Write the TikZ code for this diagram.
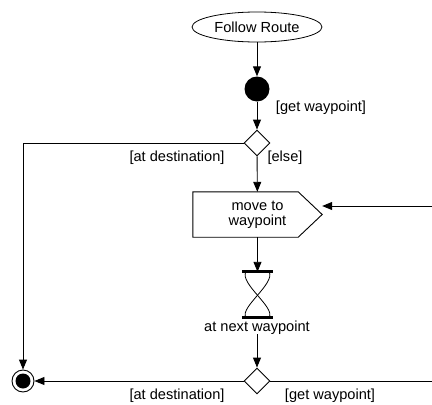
\documentclass[tikz,border=0pt]{standalone}
\usepackage{fontspec}
\setmainfont{Liberation Sans}
\usetikzlibrary{arrows.meta,shapes.geometric}

\begin{document}
\begin{tikzpicture}[x=1pt,y=-1pt,
  every node/.style={font=\fontsize{14.6}{17}\selectfont},
  flow/.style={-{Triangle[length=10pt,width=8pt]},line width=0.9pt},
  plain/.style={line width=0.9pt},
  branch/.style={draw,diamond,minimum size=26pt,inner sep=0pt,line width=0.9pt}]
\useasboundingbox (0,0) rectangle (432,405);
% activity and start
\node [draw,ellipse,minimum width=129pt,minimum height=30pt,line width=0.8pt] (follow) at (257,27) {Follow Route};
\node [circle,fill,minimum size=25pt,inner sep=0pt] (start) at (257,89) {};
\node (getlbl) at (321,108) {[get waypoint]};
\node [branch] (dec1) at (257,143) {};
\node (destlbl) at (177,158) {[at destination]};
\node (elselbl) at (285,158) {[else]};
% action
\node [minimum width=129pt,minimum height=45pt,inner sep=0pt,align=center] (act) at (257.5,214.5) {move to\\[-2pt]waypoint};
\draw [plain] (act.north west) -- ([xshift=-24pt]act.north east) -- (act.east)
  -- ([xshift=-24pt]act.south east) -- (act.south west) -- cycle;
% time event
\node [minimum width=31pt,minimum height=45pt,inner sep=0pt] (wait) at (257.5,294.5) {};
\draw [line width=3pt] (wait.north west) -- (wait.north east);
\draw [line width=3pt] (wait.south west) -- (wait.south east);
\draw [line width=0.8pt] ([xshift=4pt]wait.north west) .. controls +(-6,12) and +(6,-10) .. ([xshift=-4pt]wait.south east);
\draw [line width=0.8pt] ([xshift=-4pt]wait.north east) .. controls +(6,12) and +(-6,-10) .. ([xshift=4pt]wait.south west);
\node (nextlbl) at (257,328) {at next waypoint};
\node [branch] (dec2) at (257,381) {};
\node (destlbl2) at (177,396) {[at destination]};
\node (getlbl2) at (330,396) {[get waypoint]};
% end
\node [circle,draw,line width=0.9pt,minimum size=22pt,inner sep=0pt] (stop) at (23,381) {};
\fill (stop) circle (7.5);
\coordinate (loopin) at (432,206);
\coordinate (loopout) at (432,381);
% flows
\draw [flow] (follow) -- (start);
\draw [flow] (start) -- (dec1);
\draw [flow] (dec1) -- (act);
\draw [flow] (dec1.west) -| (stop.north);
\draw [flow] (loopin) -- (loopin -| act.east);
\draw [flow] (act) -- (wait);
\draw [flow] ([yshift=4pt]nextlbl.south) -- (dec2);
\draw [flow] (dec2.west) -- (stop.east);
\draw [plain] (dec2.east) -- (loopout);
\end{tikzpicture}
\end{document}
